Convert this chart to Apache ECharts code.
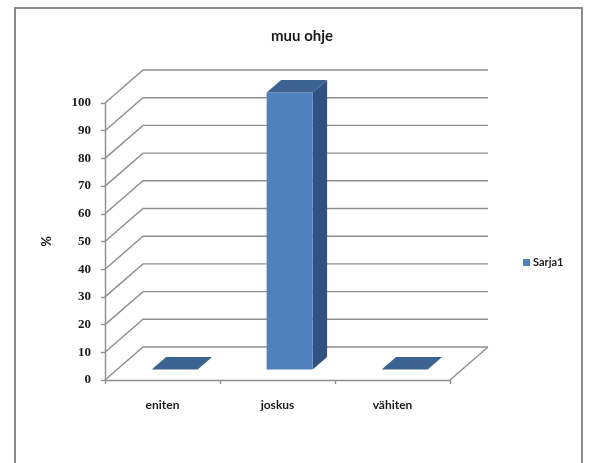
<!DOCTYPE html>
<html>
<head>
<meta charset="utf-8">
<script src="https://cdn.jsdelivr.net/npm/echarts@6/dist/echarts.min.js"></script>
<style>
  html, body { margin: 0; padding: 0; background: #fff; }
  #chart { width: 590px; height: 463px; }
</style>
</head>
<body>
<div id="chart"></div>
<script>
// Chart content
const titleText = 'muu ohje';
const seriesName = 'Sarja1';
const categories = ['eniten', 'joskus', 'vähiten'];
const values = [0, 100, 0];
const yTicks = [0, 10, 20, 30, 40, 50, 60, 70, 80, 90, 100];

// 3D look: depth vector of the box and where the columns sit inside it
const DEPTH = [38, -33];
const BAR_START = 0.32;
const BAR_DEPTH = 0.38;
const GRID_COLOR = '#8e8e8e';
const FRONT = '#4F81BD', TOP = '#3C6292', SIDE = '#2F5281';

const chart = echarts.init(document.getElementById('chart'), null, { renderer: 'canvas' });

function wallItem(params, api) {
  const cs = params.coordSys;
  const v = api.value(0);
  const y = api.coord([0, v])[1];
  const x0 = cs.x, x1 = cs.x + cs.width;
  const children = [{
    type: 'polyline',
    shape: { points: [[x0, y], [x0 + DEPTH[0], y + DEPTH[1]], [x1 + DEPTH[0], y + DEPTH[1]]] },
    style: { stroke: GRID_COLOR, lineWidth: 1.4, fill: null }
  }];
  if (v === 0) {
    children.push({
      type: 'line',
      shape: { x1: x1, y1: y, x2: x1 + DEPTH[0], y2: y + DEPTH[1] },
      style: { stroke: GRID_COLOR, lineWidth: 1.4 }
    });
  }
  return { type: 'group', children: children };
}

function barItem(params, api) {
  const idx = api.value(0);
  const top = api.coord([idx, api.value(1)]);
  const base = api.coord([idx, 0]);
  const w = api.size([1, 0])[0] * 0.4;
  const ox = DEPTH[0] * BAR_START, oy = DEPTH[1] * BAR_START;
  const dx = DEPTH[0] * BAR_DEPTH, dy = DEPTH[1] * BAR_DEPTH;
  const L = top[0] - w / 2 + ox, R = top[0] + w / 2 + ox;
  const T = top[1] + oy, B = base[1] + oy;
  const children = [];
  if (B - T > 0.5) {
    children.push({
      type: 'polygon',
      shape: { points: [[R, T], [R + dx, T + dy], [R + dx, B + dy], [R, B]] },
      style: { fill: SIDE }
    });
    children.push({
      type: 'rect',
      shape: { x: L, y: T, width: R - L, height: B - T },
      style: { fill: FRONT }
    });
  }
  children.push({
    type: 'polygon',
    shape: { points: [[L, T], [L + dx, T + dy], [R + dx, T + dy], [R, T]] },
    style: { fill: TOP }
  });
  return { type: 'group', children: children };
}

chart.setOption({
  animation: false,
  backgroundColor: '#ffffff',
  title: {
    text: titleText,
    left: 266, top: 24,
    textStyle: { fontFamily: 'Lato', fontSize: 15, fontWeight: 'bold', color: '#1a1a1a' }
  },
  legend: {
    data: [{ name: seriesName, icon: 'rect' }],
    left: 518, top: 252, orient: 'vertical',
    itemWidth: 7, itemHeight: 7, itemGap: 4,
    textStyle: { fontFamily: 'Lato', fontSize: 11, fontWeight: 'bold', color: '#1a1a1a', padding: [0, 0, 0, -2] }
  },
  grid: { left: 105, right: 140, top: 103, bottom: 83 },
  xAxis: {
    type: 'category',
    data: categories,
    boundaryGap: true,
    axisLine: { show: true, lineStyle: { color: GRID_COLOR, width: 1.4 } },
    axisTick: { show: true, length: 4, lineStyle: { color: GRID_COLOR, width: 1.4 } },
    axisLabel: { margin: 19, fontFamily: 'Lato', fontSize: 12, fontWeight: 'bold', color: '#1a1a1a' },
    splitLine: { show: false }
  },
  yAxis: {
    type: 'value',
    min: 0, max: 100, interval: 10,
    name: '%',
    nameLocation: 'middle',
    nameGap: 52,
    nameRotate: 90,
    nameTextStyle: { fontFamily: 'Lato', fontSize: 13, fontWeight: 'bold', color: '#1a1a1a' },
    axisLine: { show: true, lineStyle: { color: GRID_COLOR, width: 1.4 } },
    axisTick: { show: true, length: 4, lineStyle: { color: GRID_COLOR, width: 1.4 } },
    axisLabel: { margin: 14, fontFamily: 'Liberation Serif', fontSize: 13, fontWeight: 'bold', color: '#1a1a1a' },
    splitLine: { show: false }
  },
  graphic: [{
    type: 'rect',
    shape: { x: 15, y: 8, width: 567, height: 470 },
    style: { fill: null, stroke: '#8c8c8c', lineWidth: 2 },
    silent: true
  }],
  series: [
    {
      type: 'custom',
      name: 'wall',
      renderItem: wallItem,
      data: yTicks.map(v => [v]),
      z: 1,
      silent: true,
      tooltip: { show: false }
    },
    {
      type: 'custom',
      name: seriesName,
      renderItem: barItem,
      itemStyle: { color: FRONT },
      data: values.map((v, i) => [i, v]),
      encode: { x: 0, y: 1 },
      z: 3
    }
  ]
});
</script>
</body>
</html>
